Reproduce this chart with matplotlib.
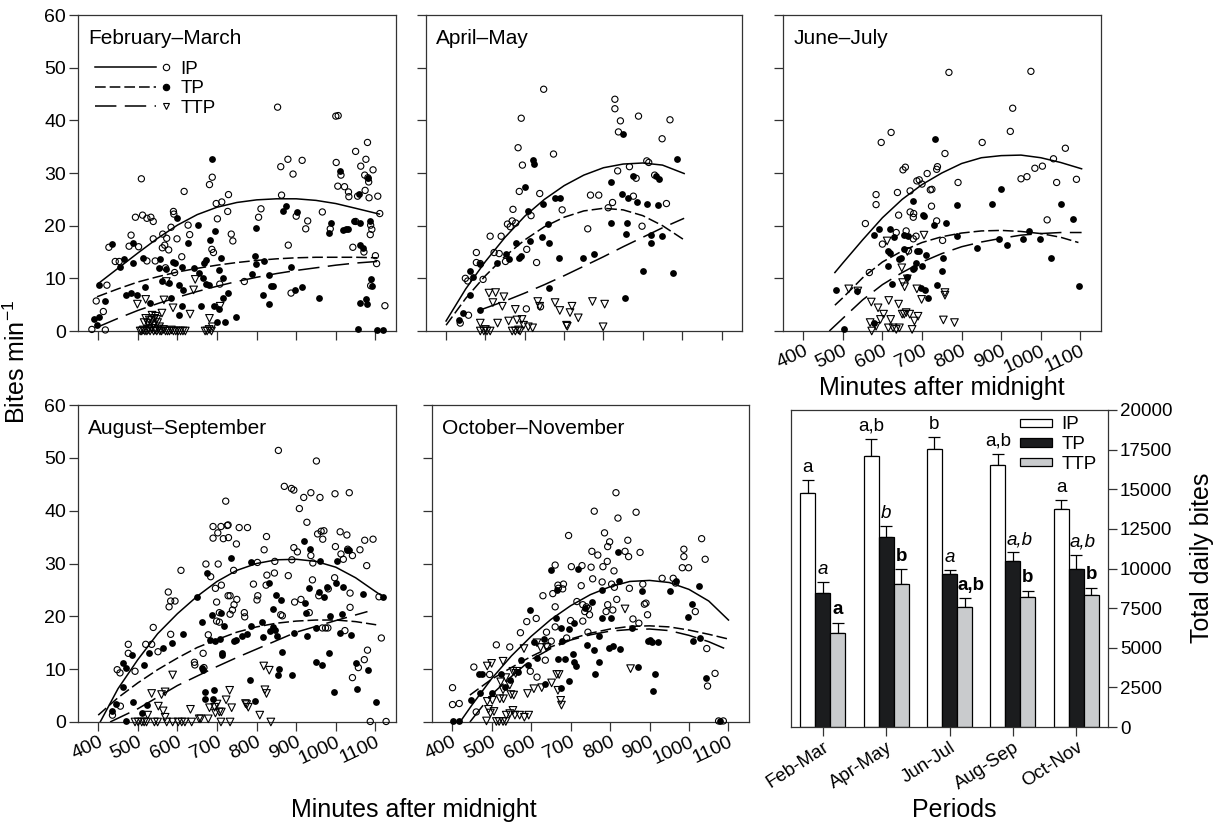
import matplotlib
matplotlib.use("Agg")
import matplotlib.pyplot
import matplotlib.lines
import matplotlib.legend_handler
import numpy

matplotlib.pyplot.rcParams["font.family"] = ["Liberation Sans", "DejaVu Sans"]
matplotlib.pyplot.rcParams["mathtext.default"] = "regular"

# ---- scatter data: (minutes after midnight, bites per minute) ----
FEB_MAR_IP = [(384,0.3),(395,5.7),(413,3.7),(418,0.2),(422,8.7),(427,15.9),(443,13.2),(453,13.2),(478,16.1),(483,18.2),(494,21.6),(502,16.0),(509,28.9),(512,22.0),(523,21.4),(533,21.6),(539,20.8),(539,17.5),(523,13.3),(544,13.3),(563,18.4),(568,16.3),(573,17.6),(562,15.8),(578,15.4),(570,12.0),(584,19.7),(590,22.7),(591,22.2),(593,11.1),(599,17.5),(611,14.1),(617,26.5),(627,20.1),(631,18.3),(687,15.5),(691,14.9),(681,27.8),(688,29.2),(698,24.2),(712,24.5),(701,21.3),(727,22.7),(729,25.9),(736,18.4),(740,17.1),(707,8.9),(769,9.4),(805,21.6),(811,23.2),(853,42.5),(861,31.2),(863,25.8),(879,32.6),(892,29.8),(880,16.3),(887,7.2),(900,21.8),(915,32.4),(929,20.9),(924,19.4),(966,22.6),(986,19.4),(1000,40.8),(1006,40.9),(1001,32.0),(1005,27.5),(1013,29.6),(1022,27.4),(1032,26.4),(1033,25.5),(1043,15.9),(1050,34.1),(1055,25.6),(1063,31.3),(1076,32.6),(1080,35.8),(1074,26.7),(1050,20.8),(1071,15.0),(1073,29.6),(1081,29.1),(1083,28.3),(1084,25.3),(1094,30.6),(1088,20.1),(1087,18.3),(1091,19.3),(1106,25.6),(1111,22.3),(1100,14.3),(1103,12.8),(1124,4.8),(1088,8.6)]
FEB_MAR_TP = [(389,2.3),(402,2.7),(398,1.1),(403,8.7),(416,5.7),(436,16.5),(454,12.2),(464,13.7),(471,6.8),(482,7.2),(497,6.8),(488,13.0),(489,16.8),(514,13.9),(518,8.3),(531,5.4),(553,12.0),(557,13.6),(562,9.5),(570,11.7),(579,9.1),(584,6.2),(589,13.1),(593,13.0),(600,21.4),(603,8.8),(611,12.1),(614,7.8),(611,4.7),(603,3.0),(626,16.8),(641,12.0),(653,20.1),(654,11.0),(659,4.7),(664,10.1),(668,13.0),(671,9.0),(681,8.8),(672,13.5),(683,17.3),(688,32.6),(694,19.0),(692,4.7),(700,1.8),(705,11.5),(705,4.1),(711,13.9),(714,6.3),(715,10.1),(721,1.8),(729,7.2),(748,2.6),(798,19.6),(796,14.3),(789,10.8),(798,12.8),(819,13.2),(817,6.8),(831,10.6),(831,5.1),(836,8.6),(841,8.5),(866,22.7),(874,23.8),(887,12.1),(903,22.6),(898,7.7),(914,8.3),(958,6.2),(989,20.6),(982,18.7),(1010,30.4),(1019,19.2),(1027,19.3),(1032,19.3),(1046,20.8),(1058,26.1),(1062,20.5),(1062,16.3),(1068,15.7),(1081,29.0),(1086,20.8),(1088,9.9),(1091,8.5),(1076,6.0),(1079,5.1),(1060,5.4),(1055,0.3),(1104,0.2),(1119,0.2)]
FEB_MAR_TTP = [(499,5.1),(520,6.0),(516,1.6),(520,2.4),(529,2.1),(542,2.4),(561,3.4),(566,5.9),(572,9.4),(589,4.4),(632,3.2),(641,7.8),(645,9.8),(681,2.4),(708,4.7),(688,0.8),(525,1.5),(530,1.0),(535,2.0),(540,1.2),(545,2.8),(550,1.6),(555,0.8),(536,3.0),(548,2.2),(506,0),(510,0),(514,0.2),(518,0),(523,0),(527,0.3),(531,0),(535,0.5),(540,0),(544,0.2),(548,0),(552,0.4),(556,0),(560,0),(565,0.3),(570,0),(575,0),(580,0),(585,0.2),(590,0),(596,0),(602,0),(608,0),(614,0),(620,0),(670,0),(675,0),(680,0.3),(686,0)]

APR_MAY_IP = [(436,1.5),(449,10.0),(455,9.5),(457,3.0),(477,14.9),(477,13.0),(487,12.8),(494,9.8),(512,18.0),(522,14.9),(535,14.7),(540,18.0),(551,13.2),(556,20.3),(563,19.8),(568,20.9),(570,23.1),(577,20.5),(583,34.8),(586,26.5),(591,40.4),(594,31.5),(605,15.5),(616,21.9),(604,4.2),(630,13.0),(638,26.1),(640,4.6),(648,45.9),(673,33.6),(695,23.0),(760,19.4),(767,25.8),(788,25.8),(812,23.4),(823,24.4),(829,44.0),(829,42.2),(836,30.4),(843,39.9),(838,37.8),(866,31.2),(876,25.6),(883,29.0),(889,40.8),(898,19.9),(910,32.3),(915,32.0),(930,29.6),(949,36.5),(960,24.2),(969,40.1)]
APR_MAY_TP = [(433,2.0),(444,3.5),(461,6.8),(461,11.3),(469,10.3),(485,12.7),(487,3.9),(529,13.0),(552,14.6),(559,13.6),(578,16.8),(586,13.8),(591,14.2),(601,27.4),(609,22.8),(614,17.1),(622,32.5),(623,31.7),(644,17.8),(647,24.2),(660,20.4),(662,16.8),(662,8.1),(676,25.3),(689,25.3),(688,13.8),(748,13.8),(776,14.7),(818,28.2),(818,20.6),(846,26.1),(849,37.4),(854,6.2),(857,18.4),(860,20.6),(863,25.3),(875,29.4),(885,24.4),(900,11.3),(911,24.2),(922,18.2),(921,16.8),(933,29.4),(939,24.0),(942,28.8),(948,18.0),(977,11.1),(988,32.6)]
APR_MAY_TTP = [(509,7.2),(526,7.3),(519,5.4),(547,6.5),(543,4.7),(576,4.1),(487,1.5),(487,0),(496,0),(504,0),(512,0),(531,1.5),(559,1.9),(568,0),(576,0),(580,2.1),(588,0),(593,2.2),(597,1.1),(609,0.8),(620,0.6),(633,5.6),(638,4.7),(677,5.4),(689,3.9),(715,3.5),(720,4.7),(736,2.5),(706,1.1),(708,0.9),(772,5.6),(803,5.1),(799,0.8),(500,0.3),(584,0.2)]

JUN_JUL_IP = [(557,20.4),(567,11.1),(584,25.9),(584,24.0),(597,35.8),(600,16.5),(622,37.7),(635,18.7),(638,26.3),(641,22.0),(652,30.6),(658,31.1),(660,19.0),(666,15.2),(670,26.6),(670,22.6),(678,21.6),(679,22.3),(678,17.5),(685,18.0),(687,28.5),(693,28.7),(700,27.9),(713,29.9),(721,26.8),(725,26.9),(724,23.7),(737,20.9),(737,30.7),(739,31.2),(752,17.2),(758,33.7),(768,49.1),(791,28.2),(852,35.8),(923,37.9),(929,42.3),(950,28.9),(965,29.3),(975,49.3),(985,30.9),(1004,31.3),(1016,21.1),(1032,32.7),(1040,28.2),(1062,34.7),(1090,28.8)]
JUN_JUL_TP = [(482,7.8),(504,0.3),(537,7.6),(578,18.2),(580,1.6),(592,19.3),(615,15.2),(615,12.3),(618,19.4),(619,14.9),(625,8.9),(629,17.9),(643,13.6),(648,13.9),(655,15.6),(655,18.2),(665,18.0),(661,10.3),(678,24.7),(677,11.7),(681,12.0),(685,13.0),(687,15.2),(693,15.1),(701,12.3),(703,22.0),(706,21.9),(698,8.2),(707,7.8),(711,14.4),(715,6.3),(731,20.1),(732,36.4),(737,8.7),(750,11.3),(752,13.9),(761,20.6),(789,23.9),(789,18.0),(838,15.8),(876,24.2),(899,27.0),(894,17.5),(914,16.3),(954,17.5),(969,19.0),(998,17.5),(1026,13.9),(1051,24.2),(1081,21.2),(1097,8.5)]
JUN_JUL_TTP = [(515,8.0),(538,7.6),(572,5.5),(589,4.4),(612,17.1),(616,5.8),(641,5.1),(649,12.0),(651,9.2),(656,8.4),(663,15.1),(663,9.9),(705,18.2),(687,8.0),(699,6.0),(758,7.3),(758,6.8),(754,2.1),(782,1.6),(569,1.6),(573,0),(584,0.9),(595,2.2),(603,3.2),(615,0.6),(621,2.2),(627,0.6),(635,0.3),(643,0.6),(650,3.2),(660,3.5),(669,3.2),(675,0.3),(681,1.9),(690,2.8),(655,3.2)]

AUG_SEP_IP = [(436,1.3),(448,9.9),(455,9.3),(456,3.0),(476,14.7),(476,13.0),(493,9.6),(520,14.7),(535,14.7),(539,17.9),(551,13.3),(577,24.6),(579,21.8),(583,22.9),(594,22.9),(583,16.6),(609,28.7),(643,11.3),(644,10.8),(665,13.0),(667,10.3),(672,29.9),(678,16.5),(684,27.5),(690,34.8),(690,37.0),(696,25.3),(699,19.1),(699,22.7),(702,35.8),(703,29.9),(706,18.9),(706,20.7),(710,37.0),(711,25.9),(716,34.7),(722,41.8),(726,37.2),(728,37.3),(729,34.9),(728,23.9),(733,20.4),(733,23.9),(739,21.2),(742,28.7),(743,22.2),(749,33.7),(750,23.2),(756,36.8),(769,20.7),(770,19.9),(777,36.8),(792,26.1),(801,23.1),(802,30.2),(803,23.9),(819,32.6),(824,25.9),(825,35.1),(826,27.8),(845,28.2),(846,30.4),(855,51.4),(861,20.3),(865,20.1),(870,44.6),(880,27.7),(888,44.2),(894,43.9),(889,30.7),(894,33.0),(896,22.7),(903,32.2),(908,40.4),(912,23.2),(919,42.5),(927,37.8),(933,20.7),(937,43.4),(937,31.5),(941,26.9),(942,30.1),(951,49.4),(954,35.6),(957,23.9),(960,42.5),(963,36.1),(966,17.8),(967,34.6),(970,36.2),(974,17.8),(981,25.2),(980,17.8),(998,43.2),(999,33.2),(997,27.3),(1011,36.0),(1013,31.8),(1019,30.8),(1028,35.4),(1030,32.7),(1034,43.4),(1036,24.4),(1042,31.5),(1036,21.7),(1023,17.3),(1042,8.4),(1057,10.3),(1061,32.6),(1072,11.8),(1073,34.4),(1078,29.6),(1080,13.6),(1087,0.1),(1094,34.6),(1109,23.7),(1115,15.9),(1127,0.1)]
AUG_SEP_TP = [(434,2.0),(445,3.4),(463,6.6),(463,11.2),(469,10.3),(487,3.8),(486,12.7),(470,0.1),(511,1.7),(515,10.8),(522,3.3),(529,13.0),(564,14.1),(586,14.9),(615,16.6),(649,23.7),(663,10.3),(662,19.0),(664,9.8),(676,28.2),(669,5.7),(669,4.4),(682,15.5),(687,20.3),(693,6.1),(690,4.4),(694,15.3),(708,15.8),(711,20.7),(712,13.1),(712,12.7),(717,18.2),(735,31.0),(743,15.4),(749,15.5),(762,16.3),(777,16.6),(783,8.0),(785,18.2),(785,30.3),(796,4.0),(813,19.0),(816,16.0),(832,26.4),(835,17.3),(842,21.3),(842,17.9),(846,17.4),(848,24.1),(851,16.3),(855,8.9),(857,10.1),(861,23.0),(865,13.3),(889,8.9),(894,16.8),(919,34.2),(923,22.6),(924,20.6),(928,16.3),(933,25.3),(936,32.7),(949,17.8),(950,11.4),(957,24.6),(961,30.5),(965,10.8),(971,23.6),(977,25.6),(982,13.1),(986,20.1),(995,5.7),(1001,26.3),(1003,30.5),(1011,16.8),(1016,20.4),(1019,25.6),(1028,32.6),(1034,32.6),(1039,16.5),(1051,11.2),(1053,6.3),(1068,24.2),(1082,9.8),(1101,3.7),(1120,23.7)]
AUG_SEP_TTP = [(525,1.3),(535,5.4),(552,3.0),(560,5.2),(564,2.1),(569,5.7),(569,0.9),(588,8.9),(633,2.4),(659,0.6),(678,0.6),(681,2.7),(694,2.8),(696,1.7),(700,3.4),(706,1.9),(711,1.9),(723,4.2),(732,6.0),(737,2.7),(733,0),(775,3.3),(779,2.8),(808,1.3),(818,10.6),(821,6.1),(825,5.4),(832,9.8),(836,0),(772,3.5),(493,0),(501,0),(510,0),(516,0),(522,0),(542,0),(550,0),(573,0),(588,0),(602,0),(611,0),(619,0),(636,0),(655,0.6),(710,0)]

OCT_NOV_IP = [(401,6.5),(401,3.3),(418,3.5),(455,10.4),(461,1.9),(495,9.0),(512,14.6),(546,14.2),(573,16.9),(589,19.0),(598,9.6),(615,8.5),(613,19.6),(630,23.9),(636,11.7),(639,17.0),(642,14.4),(651,15.3),(655,24.3),(661,29.7),(661,21.8),(661,18.0),(668,25.9),(669,25.3),(680,25.2),(682,26.1),(690,15.9),(695,35.3),(700,19.2),(702,29.4),(716,22.8),(727,25.8),(729,29.6),(731,19.1),(731,22.2),(736,20.9),(740,21.8),(745,21.5),(744,17.0),(748,20.3),(752,29.3),(754,32.3),(756,27.1),(760,39.9),(769,31.6),(780,26.5),(782,29.4),(786,35.8),(790,20.9),(793,30.4),(794,22.2),(794,33.2),(799,34.1),(804,26.1),(807,21.2),(811,25.5),(810,28.6),(815,43.4),(817,23.2),(820,38.6),(838,32.3),(845,34.4),(847,31.3),(849,25.3),(858,19.5),(866,39.7),(873,18.7),(876,32.1),(883,26.1),(887,22.3),(895,20.3),(891,22.5),(932,27.2),(960,27.2),(966,26.3),(983,29.2),(987,32.7),(987,31.3),(999,29.2),(1016,20.9),(1032,34.7),(1041,30.8),(1045,13.9),(1047,6.8),(1066,9.2),(1075,0.2),(1087,0.2)]
OCT_NOV_TP = [(403,0.2),(418,0.2),(447,4.1),(470,5.5),(468,9.0),(476,9.0),(502,5.4),(525,9.0),(534,6.6),(546,7.9),(567,9.4),(575,11.7),(591,10.8),(596,21.2),(607,15.1),(616,12.2),(632,15.7),(636,7.1),(650,28.8),(662,19.6),(665,25.0),(668,11.9),(677,17.8),(677,6.5),(679,15.4),(687,12.0),(697,17.6),(697,7.7),(705,12.8),(709,18.8),(709,11.3),(713,10.6),(720,29.0),(736,21.5),(742,14.6),(754,22.8),(760,13.6),(762,9.0),(771,11.4),(772,16.3),(779,25.0),(779,19.6),(797,14.1),(802,19.6),(807,14.4),(821,32.2),(823,26.7),(825,13.9),(856,17.8),(870,10.4),(881,24.8),(895,15.3),(901,15.5),(908,5.8),(906,15.1),(913,9.0),(921,15.1),(953,24.8),(966,26.6),(997,19.9),(1007,22.3),(1010,15.4),(1025,25.8),(1028,15.9),(1043,8.4),(1079,0.2)]
OCT_NOV_TTP = [(489,10.6),(500,11.1),(489,3.9),(502,4.1),(492,2.4),(497,1.7),(506,2.0),(521,4.4),(529,11.5),(523,7.6),(529,6.1),(530,4.4),(536,8.4),(537,1.3),(546,7.0),(549,5.2),(554,9.6),(556,5.1),(561,9.2),(564,9.6),(546,1.6),(554,2.2),(559,1.3),(571,1.3),(582,13.9),(583,0.9),(591,5.4),(594,1.3),(607,6.3),(615,15.0),(624,14.1),(627,6.5),(639,14.1),(652,7.4),(665,9.0),(671,9.0),(668,6.0),(675,4.1),(677,3.2),(838,21.4),(852,10.1),(487,0.2),(512,0.1),(519,0.1),(529,0.1),(536,0.1)]

# ---- fitted curves: (minutes, bites per minute) ----
FEB_MAR_IP_FIT = [(400,9.0),(450,11.9),(500,14.8),(550,17.6),(600,20.1),(650,22.1),(700,23.5),(750,24.4),(800,24.9),(850,25.1),(900,25.1),(950,24.8),(1000,24.2),(1050,23.3),(1110,22.2)]
FEB_MAR_TP_FIT = [(397,6.5),(450,8.0),(500,9.3),(550,10.3),(600,11.2),(650,11.9),(700,12.5),(750,13.0),(800,13.4),(850,13.7),(900,13.9),(950,14.0),(1000,14.0),(1050,14.0),(1104,13.9)]
FEB_MAR_TTP_FIT = [(400,0.8),(450,2.4),(500,3.9),(550,5.2),(600,6.4),(650,7.5),(700,8.5),(750,9.4),(800,10.2),(850,10.9),(900,11.5),(950,12.0),(1000,12.5),(1050,12.9),(1104,13.2)]
APR_MAY_IP_FIT = [(400,1.9),(450,8.0),(500,13.2),(550,17.8),(600,21.8),(650,25.0),(700,27.6),(750,29.6),(800,31.0),(850,31.7),(900,31.9),(950,31.5),(1005,29.9)]
APR_MAY_TP_FIT = [(400,1.1),(450,6.2),(500,10.5),(550,14.2),(600,17.3),(650,19.8),(700,21.6),(750,22.8),(800,23.3),(850,23.0),(900,21.9),(950,20.0),(1005,17.3)]
APR_MAY_TTP_FIT = [(487,4.0),(550,5.7),(600,7.2),(650,8.8),(700,10.5),(750,12.3),(800,14.1),(850,16.0),(900,17.8),(950,19.6),(1005,21.4)]
JUN_JUL_IP_FIT = [(480,11.1),(500,12.9),(550,17.3),(600,21.5),(650,25.0),(700,27.8),(750,30.0),(800,31.8),(850,32.9),(900,33.3),(950,33.4),(1000,32.9),(1050,32.0),(1103,30.8)]
JUN_JUL_TP_FIT = [(480,4.9),(500,6.3),(550,10.1),(600,13.1),(650,15.2),(700,16.8),(750,17.9),(800,18.6),(850,19.0),(900,19.1),(950,18.9),(1000,18.5),(1050,17.8),(1095,16.8)]
JUN_JUL_TTP_FIT = [(466,0.0),(500,2.4),(550,5.9),(600,8.8),(650,11.1),(700,13.1),(750,14.7),(800,16.0),(850,16.9),(900,17.6),(950,18.2),(1000,18.5),(1050,18.7),(1103,18.7)]
AUG_SEP_IP_FIT = [(405,0.0),(450,6.3),(500,11.8),(550,16.7),(600,20.5),(650,23.8),(700,26.6),(750,28.7),(800,30.0),(850,30.7),(900,30.8),(950,30.4),(1000,29.3),(1050,27.3),(1100,24.7),(1120,23.7)]
AUG_SEP_TP_FIT = [(400,1.3),(450,4.6),(500,7.4),(550,9.9),(600,12.1),(650,14.1),(700,15.6),(750,17.0),(800,18.0),(850,18.7),(900,19.1),(950,19.3),(1000,19.3),(1050,19.0),(1102,18.4)]
AUG_SEP_TTP_FIT = [(430,0.0),(500,2.5),(550,4.7),(600,6.9),(650,8.7),(700,10.5),(750,12.2),(800,13.8),(850,15.4),(900,17.0),(950,18.1),(1000,19.2),(1080,20.9)]
OCT_NOV_IP_FIT = [(420,0.0),(450,3.2),(500,8.2),(550,12.5),(600,16.2),(650,19.4),(700,22.0),(750,24.1),(800,25.6),(850,26.6),(900,26.8),(950,26.4),(1000,25.1),(1050,22.9),(1100,19.3)]
OCT_NOV_TP_FIT = [(445,5.1),(500,8.1),(550,10.3),(600,12.4),(650,14.2),(700,15.7),(750,16.8),(800,17.6),(850,18.1),(900,18.2),(950,18.0),(1000,17.4),(1050,16.6),(1100,15.7)]
OCT_NOV_TTP_FIT = [(445,0.0),(500,5.2),(550,8.6),(600,11.8),(650,13.9),(700,15.5),(750,16.5),(800,17.2),(850,17.5),(900,17.6),(950,17.3),(1000,16.4),(1050,15.2),(1100,13.6)]

PANEL_TITLES = ["February\u2013March", "April\u2013May", "June\u2013July", "August\u2013September", "October\u2013November"]
GROUPS = ["IP", "TP", "TTP"]
X_TICKS = [400, 500, 600, 700, 800, 900, 1000, 1100]
Y_TICKS = [0, 10, 20, 30, 40, 50, 60]

# ---- bar chart data ----
PERIODS = ["Feb-Mar", "Apr-May", "Jun-Jul", "Aug-Sep", "Oct-Nov"]
IP_BITES = [14780, 17070, 17520, 16550, 13730]
IP_SE = [800, 1080, 750, 650, 570]
TP_BITES = [8480, 11960, 9660, 10500, 9940]
TP_SE = [640, 690, 230, 510, 920]
TTP_BITES = [5920, 9050, 7600, 8230, 8340]
TTP_SE = [670, 910, 510, 360, 440]
IP_LETTERS = ["a", "a,b", "b", "a,b", "a"]
TP_LETTERS = ["a", "b", "a", "a,b", "a,b"]
TTP_LETTERS = ["a", "b", "a,b", "b", "b"]
BITE_TICKS = [0, 2500, 5000, 7500, 10000, 12500, 15000, 17500, 20000]


class EndMarkerHandler(matplotlib.legend_handler.HandlerBase):
	# line on the left, marker a little past its right end
	def create_artists(self, legend, orig_handle, xdescent, ydescent, width, height, fontsize, trans):
		y = (height - ydescent) / 2.0
		line = matplotlib.lines.Line2D([-xdescent, -xdescent + 0.82 * width], [y, y])
		line.update_from(orig_handle)
		line.set_marker("")
		line.set_transform(trans)
		dot = matplotlib.lines.Line2D([-xdescent + 0.95 * width], [y])
		dot.update_from(orig_handle)
		dot.set_linestyle("None")
		dot.set_transform(trans)
		return [line, dot]


class Main:
	def __init__(self):
		self.width = 1220
		self.height = 824
		self.line_styles = {"IP": "-", "TP": (0, (7, 2.6)), "TTP": (0, (14, 5.5))}
		self.marker_styles = {
			"IP": dict(marker = "o", s = 20, facecolors = "none", edgecolors = "black", linewidths = 0.8),
			"TP": dict(marker = "o", s = 24, color = "black", linewidths = 0),
			"TTP": dict(marker = "v", s = 30, facecolors = "none", edgecolors = "black", linewidths = 0.8),
		}
		self.panels = None
		self.initialize()
		self.visualize()

	def rect(self, x0, y0, x1, y1):
		return [x0 / self.width, 1 - y1 / self.height, (x1 - x0) / self.width, (y1 - y0) / self.height]

	def initialize(self):
		points = [
			(FEB_MAR_IP, FEB_MAR_TP, FEB_MAR_TTP),
			(APR_MAY_IP, APR_MAY_TP, APR_MAY_TTP),
			(JUN_JUL_IP, JUN_JUL_TP, JUN_JUL_TTP),
			(AUG_SEP_IP, AUG_SEP_TP, AUG_SEP_TTP),
			(OCT_NOV_IP, OCT_NOV_TP, OCT_NOV_TTP),
		]
		fits = [
			(FEB_MAR_IP_FIT, FEB_MAR_TP_FIT, FEB_MAR_TTP_FIT),
			(APR_MAY_IP_FIT, APR_MAY_TP_FIT, APR_MAY_TTP_FIT),
			(JUN_JUL_IP_FIT, JUN_JUL_TP_FIT, JUN_JUL_TTP_FIT),
			(AUG_SEP_IP_FIT, AUG_SEP_TP_FIT, AUG_SEP_TTP_FIT),
			(OCT_NOV_IP_FIT, OCT_NOV_TP_FIT, OCT_NOV_TTP_FIT),
		]
		boxes = [(78, 15, 396, 331), (426, 15, 742, 331), (783, 15, 1101, 331), (78, 405, 396, 722), (432, 405, 749, 722)]
		xlabels = [False, False, True, True, True]
		ylabels = [True, False, False, True, False]
		self.panels = []
		for k in range(5):
			self.panels.append(dict(
				title = PANEL_TITLES[k], points = points[k], fits = fits[k], box = boxes[k],
				xlabels = xlabels[k], ylabels = ylabels[k], legend = (k == 0),
			))

	def style_axes(self, axes, labelsize):
		axes.tick_params(direction = "out", length = 6.5, width = 0.9, colors = "#333333", labelcolor = "black", labelsize = labelsize, pad = 2)
		for spine in axes.spines.values():
			spine.set_color("#333333")
			spine.set_linewidth(0.9)

	def draw_panel(self, figure, panel):
		axes = figure.add_axes(self.rect(*panel["box"]))
		for g, name in enumerate(GROUPS):
			fit = numpy.array(panel["fits"][g], dtype = float)
			axes.plot(fit[:, 0], fit[:, 1], color = "black", linewidth = 1.1, linestyle = self.line_styles[name], zorder = 2)
			pts = numpy.array(panel["points"][g], dtype = float)
			axes.scatter(pts[:, 0], pts[:, 1], clip_on = False, zorder = 3, **self.marker_styles[name])
		axes.set_xlim(349, 1152)
		axes.set_ylim(0, 60)
		axes.set_xticks(X_TICKS)
		axes.set_yticks(Y_TICKS)
		self.style_axes(axes, 14)
		if panel["xlabels"]:
			axes.set_xticklabels([str(v) for v in X_TICKS], rotation = 25, ha = "right", va = "top", rotation_mode = "anchor")
		else:
			axes.set_xticklabels([])
		if not panel["ylabels"]:
			axes.set_yticklabels([])
		axes.text(0.032, 0.955, panel["title"], transform = axes.transAxes, ha = "left", va = "top", fontsize = 15)
		if panel["legend"]:
			handles = []
			for name in GROUPS:
				style = self.marker_styles[name]
				handles.append(matplotlib.lines.Line2D(
					[], [], color = "black", linewidth = 1.1, linestyle = self.line_styles[name],
					marker = style["marker"], markersize = 4.6,
					markerfacecolor = "black" if name == "TP" else "none", markeredgecolor = "black", markeredgewidth = 0.8,
				))
			axes.legend(
				handles, GROUPS, loc = "upper left", bbox_to_anchor = (0.053, 0.855), frameon = False, fontsize = 13.5,
				handlelength = 4.0, handletextpad = 0.55, labelspacing = 0.12, borderaxespad = 0, borderpad = 0,
				handler_map = {matplotlib.lines.Line2D: EndMarkerHandler()},
			)
		return axes

	def draw_bars(self, figure):
		axes = figure.add_axes(self.rect(791, 410, 1108, 727))
		x = numpy.arange(len(PERIODS))
		w = 0.237
		series = [
			(IP_BITES, IP_SE, IP_LETTERS, "white", -w, dict(style = "normal", weight = "normal")),
			(TP_BITES, TP_SE, TP_LETTERS, "#1b1c1e", 0.0, dict(style = "italic", weight = "normal")),
			(TTP_BITES, TTP_SE, TTP_LETTERS, "#c9cbcd", w, dict(style = "normal", weight = "bold")),
		]
		for k, (vals, errs, letters, color, offset, font) in enumerate(series):
			vals = numpy.array(vals, dtype = float)
			errs = numpy.array(errs, dtype = float)
			axes.bar(x + offset, vals, width = w, color = color, edgecolor = "black", linewidth = 0.9, label = GROUPS[k], zorder = 2)
			axes.errorbar(x + offset, vals, yerr = [numpy.zeros_like(errs), errs], fmt = "none", ecolor = "black", elinewidth = 0.9, capsize = 4, capthick = 0.9, zorder = 1)
			for i in range(len(PERIODS)):
				shift = 0.1 if (k > 0 and len(letters[i]) > 1) else 0.0
				axes.text(x[i] + offset + shift, vals[i] + errs[i] + 280, letters[i], ha = "center", va = "bottom", fontsize = 13.5, **font)
		axes.set_xlim(-0.5, 4.5)
		axes.set_ylim(0, 20000)
		axes.set_xticks(x)
		axes.set_xticklabels(PERIODS, rotation = 33, ha = "right", va = "top", rotation_mode = "anchor")
		axes.set_yticks(BITE_TICKS)
		axes.yaxis.tick_right()
		self.style_axes(axes, 13.5)
		axes.legend(
			loc = "upper right", bbox_to_anchor = (1.0, 1.015), frameon = False, fontsize = 13.5,
			handlelength = 1.7, handleheight = 0.3, handletextpad = 0.5, labelspacing = 0.15, borderaxespad = 0.2,
		)
		return axes

	def visualize(self):
		figure = matplotlib.pyplot.figure(figsize = (self.width / 100, self.height / 100), dpi = 100)
		for panel in self.panels:
			self.draw_panel(figure, panel)
		self.draw_bars(figure)

		figure.text(0.014, 0.561, "Bites min$^{-1}$", rotation = 90, ha = "center", va = "center", fontsize = 18)
		figure.text(0.339, 0.0085, "Minutes after midnight", ha = "center", va = "baseline", fontsize = 18)
		figure.text(0.772, 0.5206, "Minutes after midnight", ha = "center", va = "baseline", fontsize = 18)
		figure.text(0.782, 0.0085, "Periods", ha = "center", va = "baseline", fontsize = 18)
		figure.text(0.985, 0.323, "Total daily bites", rotation = 90, ha = "center", va = "center", fontsize = 18)

		figure.savefig("out.png", dpi = 100, facecolor = "white")


if __name__ == "__main__":
	main = Main()
